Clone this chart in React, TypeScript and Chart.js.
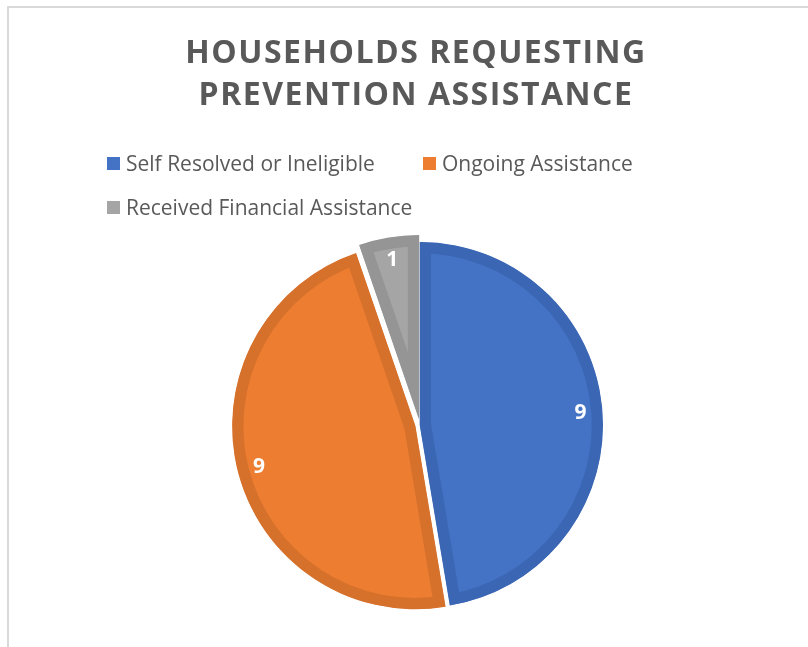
import React, { useEffect, useRef } from "react";
import { Chart, registerables } from "chart.js";

Chart.register(...registerables);

// ---- data ----
const TITLE_LINES = ["HOUSEHOLDS REQUESTING", "PREVENTION ASSISTANCE"];
const CATEGORIES = [
  "Self Resolved or Ineligible",
  "Ongoing Assistance",
  "Received Financial Assistance",
];
const VALUES = [9, 9, 1];

// ---- styles ----
const FILL_COLORS = ["#4472C4", "#ED7D31", "#A5A5A5"];
const BORDER_COLORS = ["#3B66B4", "#D6712C", "#959595"];
const EXPLODE = [0, 5, 7];

const W = 808;
const H = 647;
const CX = 420;
const CY = 425;
const R = 183;
const PAD_LEFT = 232;
const PAD_TOP = 230;

const decorPlugin = {
  id: "decor",
  afterDatasetUpdate(chart: any) {
    const meta = chart.getDatasetMeta(0);
    meta.data.forEach((arc: any, i: number) => {
      const mid = (arc.startAngle + arc.endAngle) / 2;
      const e = EXPLODE[i] || 0;
      arc.x += Math.cos(mid) * e;
      arc.y += Math.sin(mid) * e;
    });
  },
  beforeDraw(chart: any) {
    const ctx = chart.ctx as CanvasRenderingContext2D;
    ctx.save();
    ctx.fillStyle = "#ffffff";
    ctx.fillRect(0, 0, W, H);
    // chart frame
    ctx.fillStyle = "#D9D9D9";
    ctx.fillRect(7, 6, W - 7, 2);
    ctx.fillRect(7, 6, 2, H - 6);
    // title
    ctx.fillStyle = "#595959";
    ctx.font = "bold 32px 'Open Sans'";
    (ctx as any).letterSpacing = "1.5px";
    ctx.textAlign = "center";
    ctx.textBaseline = "alphabetic";
    TITLE_LINES.forEach((t, i) => ctx.fillText(t, 416, 63 + i * 42));
    (ctx as any).letterSpacing = "0px";
    // legend
    ctx.font = "21px 'Open Sans'";
    ctx.textAlign = "left";
    const slots = [
      [107, 157],
      [423, 157],
      [107, 201],
    ];
    CATEGORIES.forEach((c, i) => {
      const [x, y] = slots[i];
      ctx.fillStyle = FILL_COLORS[i];
      ctx.fillRect(x, y, 13, 13);
      ctx.fillStyle = "#595959";
      ctx.fillText(c, x + 19, y + 14);
    });
    ctx.restore();
  },
  afterDatasetsDraw(chart: any) {
    const ctx = chart.ctx as CanvasRenderingContext2D;
    const meta = chart.getDatasetMeta(0);
    ctx.save();
    ctx.fillStyle = "#ffffff";
    ctx.font = "bold 21px 'Open Sans'";
    ctx.textAlign = "center";
    ctx.textBaseline = "middle";
    meta.data.forEach((arc: any, i: number) => {
      const mid = (arc.startAngle + arc.endAngle) / 2;
      const d = arc.outerRadius - 22;
      ctx.fillText(
        String(VALUES[i]),
        arc.x + Math.cos(mid) * d,
        arc.y + Math.sin(mid) * d + 1
      );
    });
    ctx.restore();
  },
};

export default function App() {
  const ref = useRef<HTMLCanvasElement>(null);
  useEffect(() => {
    if (!ref.current) return;
    const chart = new Chart(ref.current, {
      type: "pie",
      data: {
        labels: CATEGORIES,
        datasets: [
          {
            data: VALUES,
            backgroundColor: FILL_COLORS,
            borderColor: BORDER_COLORS,
            borderWidth: 11,
            borderAlign: "inner",
            hoverOffset: 0,
          } as any,
        ],
      },
      options: {
        responsive: false,
        animation: false,
        events: [],
        radius: R,
        layout: {
          padding: {
            left: PAD_LEFT,
            right: PAD_LEFT - (2 * CX - W),
            top: PAD_TOP,
            bottom: PAD_TOP - (2 * CY - H),
          },
        },
        plugins: {
          legend: { display: false },
          title: { display: false },
          tooltip: { enabled: false },
        },
      } as any,
      plugins: [decorPlugin],
    });
    return () => chart.destroy();
  }, []);
  return (
    <div style={{ position: "absolute", left: 0, top: 0, width: W, height: H, background: "#fff" }}>
      <canvas ref={ref} width={W} height={H} style={{ display: "block" }} />
    </div>
  );
}
